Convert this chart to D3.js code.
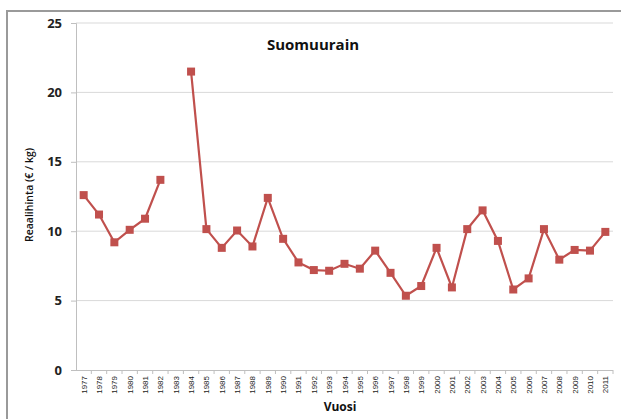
<!DOCTYPE html>
<html>
<head>
<meta charset="utf-8">
<script src="https://cdn.jsdelivr.net/npm/d3@7"></script>
<style>
  body { margin: 0; background: #fff; }
</style>
</head>
<body>
<script>
// Data
var years = ["1977","1978","1979","1980","1981","1982","1983","1984","1985","1986",
             "1987","1988","1989","1990","1991","1992","1993","1994","1995","1996",
             "1997","1998","1999","2000","2001","2002","2003","2004","2005","2006",
             "2007","2008","2009","2010","2011"];
var prices = [12.6, 11.2, 9.2, 10.1, 10.9, 13.7, null, 21.5, 10.15, 8.8,
              10.05, 8.9, 12.4, 9.45, 7.75, 7.2, 7.15, 7.65, 7.3, 8.6,
              7.0, 5.35, 6.05, 8.8, 5.95, 10.15, 11.5, 9.3, 5.8, 6.6,
              10.15, 7.95, 8.65, 8.6, 9.95];
var yTicks = [0, 5, 10, 15, 20, 25];

var W = 621, H = 419,
	plotLeft = 76, plotRight = 613,
	plotTop = 23, plotBottom = 370,
	red = "#c0504d";

var svg = d3.select("body")
	.append("svg")
	.attr("width", W)
	.attr("height", H);

// Outer frame
svg.append("rect")
	.attr("x", 7)
	.attr("y", 11)
	.attr("width", W)
	.attr("height", H)
	.attr("fill", "none")
	.attr("stroke", "#9a9a9a")
	.attr("stroke-width", 2);

var x = d3.scaleBand()
	.domain(years)
	.range([plotLeft, plotRight]);

var y = d3.scaleLinear()
	.domain([0, 25])
	.range([plotBottom, plotTop]);

// Gridlines
svg.selectAll("line.grid")
	.data(yTicks.filter(function(d) { return d > 0; }))
	.enter()
	.append("line")
	.attr("class", "grid")
	.attr("x1", plotLeft)
	.attr("x2", plotRight)
	.attr("y1", function(d) { return y(d); })
	.attr("y2", function(d) { return y(d); })
	.attr("stroke", "#d9d9d9")
	.attr("stroke-width", 1);

// Y axis
var yAxis = svg.append("g")
	.attr("transform", "translate(" + plotLeft + ",0)")
	.call(d3.axisLeft(y).tickValues(yTicks).tickSize(5).tickPadding(9));
yAxis.select(".domain").attr("stroke", "#bfbfbf");
yAxis.selectAll(".tick line").attr("stroke", "#bfbfbf");
yAxis.selectAll("text")
	.attr("font-family", "'Open Sans', sans-serif")
	.attr("font-size", "13px")
	.attr("font-weight", "bold")
	.attr("fill", "#222");

// X axis
var xAxis = svg.append("g")
	.attr("transform", "translate(0," + plotBottom + ")");
xAxis.append("line")
	.attr("x1", plotLeft - 5)
	.attr("x2", plotRight)
	.attr("y1", 0.5)
	.attr("y2", 0.5)
	.attr("stroke", "#bfbfbf");
xAxis.selectAll("line.tick")
	.data(years)
	.enter()
	.append("line")
	.attr("class", "tick")
	.attr("x1", function(d) { return x(d) + x.bandwidth(); })
	.attr("x2", function(d) { return x(d) + x.bandwidth(); })
	.attr("y1", 0)
	.attr("y2", 4)
	.attr("stroke", "#bfbfbf");
xAxis.selectAll("text")
	.data(years)
	.enter()
	.append("text")
	.text(function(d) { return d; })
	.attr("transform", function(d) {
		return "translate(" + (x(d) + x.bandwidth() / 2 + 3) + ",6) rotate(-90)";
	})
	.attr("text-anchor", "end")
	.attr("font-family", "'Liberation Sans Narrow', 'Liberation Sans', sans-serif")
	.attr("font-size", "8px")
	.attr("fill", "#222");

// Line
var line = d3.line()
	.defined(function(d) { return d.v !== null; })
	.x(function(d) { return x(d.year) + x.bandwidth() / 2; })
	.y(function(d) { return y(d.v); });

var data = years.map(function(yr, i) { return {year: yr, v: prices[i]}; });

svg.append("path")
	.datum(data)
	.attr("d", line)
	.attr("fill", "none")
	.attr("stroke", red)
	.attr("stroke-width", 2.2);

// Markers
svg.selectAll("rect.marker")
	.data(data.filter(function(d) { return d.v !== null; }))
	.enter()
	.append("rect")
	.attr("class", "marker")
	.attr("x", function(d) { return x(d.year) + x.bandwidth() / 2 - 4; })
	.attr("y", function(d) { return y(d.v) - 4; })
	.attr("width", 8)
	.attr("height", 8)
	.attr("fill", red);

// Title and labels
svg.append("text")
	.text("Suomuurain")
	.attr("x", 313)
	.attr("y", 50)
	.attr("text-anchor", "middle")
	.attr("font-family", "'Open Sans', sans-serif")
	.attr("font-size", "15px")
	.attr("font-weight", "bold")
	.attr("fill", "#111");

svg.append("text")
	.text("Reaalihinta (€ / kg)")
	.attr("transform", "translate(33,195) rotate(-90)")
	.attr("text-anchor", "middle")
	.attr("font-family", "'Open Sans', sans-serif")
	.attr("font-size", "10.5px")
	.attr("font-weight", "600")
	.attr("fill", "#111");

svg.append("text")
	.text("Vuosi")
	.attr("x", 340)
	.attr("y", 411)
	.attr("text-anchor", "middle")
	.attr("font-family", "'Open Sans', sans-serif")
	.attr("font-size", "12px")
	.attr("font-weight", "bold")
	.attr("fill", "#111");
</script>
</body>
</html>
